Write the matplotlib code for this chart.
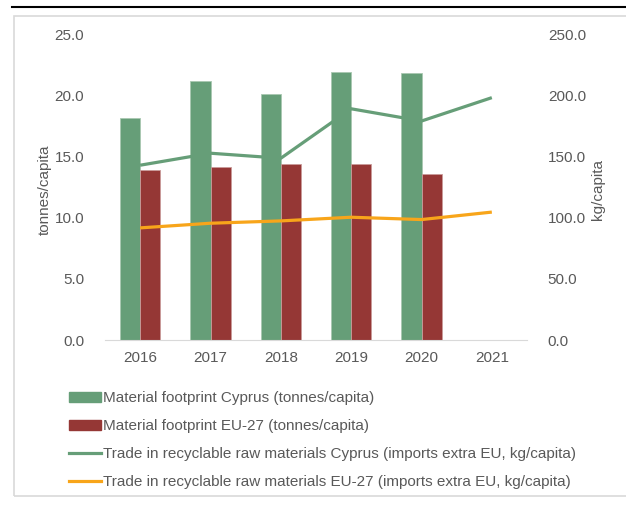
import numpy as np
import matplotlib
matplotlib.use("Agg")
import matplotlib.pyplot as plt
from matplotlib.lines import Line2D
from matplotlib.patches import Patch, Rectangle

plt.rcParams['font.family'] = ['Liberation Sans', 'DejaVu Sans']

years = ["2016", "2017", "2018", "2019", "2020", "2021"]
footprint_cy = [18.1, 21.2, 20.1, 21.9, 21.8, np.nan]
footprint_eu = [13.9, 14.1, 14.4, 14.4, 13.6, np.nan]
trade_cy = [142.8, 152.6, 148.5, 188.9, 178.9, 198.0]
trade_eu = [91.6, 95.4, 97.3, 100.3, 98.4, 104.5]

green = "#669E78"
red = "#953735"
orange = "#F8A51A"
text_col = "#595959"
fs = 11

W, H = 626, 505
fig = plt.figure(figsize=(W / 100, H / 100), dpi=100)

# outer decorations: black rule and light frame
fig.add_artist(Line2D([12 / W, 1], [1 - 7 / H, 1 - 7 / H], color="black", lw=1.5))
fig.add_artist(Rectangle((14 / W, 1 - 496 / H), (W + 10 - 14) / W, (496 - 16) / H,
                         fill=False, edgecolor="#D9D9D9", lw=1.2, clip_on=False))

ax = fig.add_axes([105 / W, 1 - 340 / H, (527 - 105) / W, (340 - 34) / H])
ax2 = ax.twinx()

x = np.arange(len(years))
bw = 0.285
ax.bar(x - bw / 2, footprint_cy, bw, color=green, edgecolor="#A9C8B1", lw=0.6, zorder=2)
ax.bar(x + bw / 2, footprint_eu, bw, color=red, edgecolor="#C99B9A", lw=0.6, zorder=2)
ax2.plot(x, trade_cy, color=green, lw=2.3, solid_capstyle="butt")
ax2.plot(x, trade_eu, color=orange, lw=2.3, solid_capstyle="butt")

ax.set_xlim(-0.5, len(years) - 0.5)
ax.set_ylim(0, 25)
ax2.set_ylim(0, 250)
ax.set_xticks(x)
ax.set_xticklabels(years)
ax.set_yticks(np.arange(0, 26, 5))
ax.set_yticklabels([f"{v:.1f}" for v in np.arange(0, 26, 5)])
ax2.set_yticks(np.arange(0, 251, 50))
ax2.set_yticklabels([f"{v:.1f}" for v in np.arange(0, 251, 50)])

for a in (ax, ax2):
    for s in a.spines.values():
        s.set_visible(False)
    a.tick_params(length=0, labelsize=fs, colors=text_col)
ax.spines["bottom"].set_visible(True)
ax.spines["bottom"].set_color("#D9D9D9")
ax.tick_params(axis="y", pad=15)
ax.tick_params(axis="x", pad=8)
ax2.tick_params(axis="y", pad=15)

fig.text(45 / W, 1 - 190 / H, "tonnes/capita", rotation=90, ha="center", va="center",
         fontsize=fs, color=text_col)
fig.text(598 / W, 1 - 190 / H, "kg/capita", rotation=90, ha="center", va="center",
         fontsize=fs, color=text_col)

handles = [
    Patch(color=green, label="Material footprint Cyprus (tonnes/capita)"),
    Patch(color=red, label="Material footprint EU-27 (tonnes/capita)"),
    Line2D([], [], color=green, lw=2.3, label="Trade in recyclable raw materials Cyprus (imports extra EU, kg/capita)"),
    Line2D([], [], color=orange, lw=2.3, label="Trade in recyclable raw materials EU-27 (imports extra EU, kg/capita)"),
]
fig.legend(handles=handles, loc="upper left", bbox_to_anchor=(63 / W, 1 - 385 / H),
           frameon=False, fontsize=fs, labelcolor=text_col, handlelength=2.1,
           handleheight=0.6, handletextpad=0.15, labelspacing=0.92, borderaxespad=0)

fig.savefig("out.png", dpi=100)
